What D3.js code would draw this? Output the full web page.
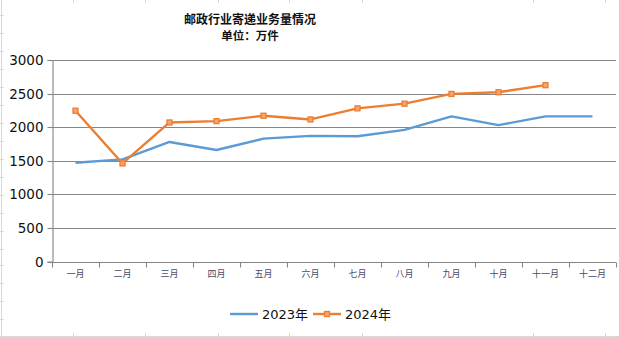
<!DOCTYPE html>
<html>
<head>
<meta charset="utf-8">
<script src="https://cdn.jsdelivr.net/npm/d3@7/dist/d3.min.js"></script>
<style>
  html, body { margin: 0; padding: 0; background: #fff; }
  svg { display: block; }
</style>
</head>
<body>
<svg id="chart" width="619" height="337"></svg>
<script>
// Monthly postal delivery volume (unit: 10k pieces)
const months = ["一月","二月","三月","四月","五月","六月","七月","八月","九月","十月","十一月","十二月"];
const series2023 = [1470, 1520, 1780, 1660, 1830, 1870, 1865, 1960, 2160, 2030, 2160, 2160];
const series2024 = [2245, 1460, 2070, 2090, 2170, 2115, 2280, 2350, 2495, 2520, 2625, null];
const yTicks = [0, 500, 1000, 1500, 2000, 2500, 3000];
const seriesNames = ["2023年", "2024年"];
const colors = ["#5B9BD5", "#ED7D31"];

const svg = d3.select("#chart");
const W = 619, H = 337;
const plot = { left: 52, right: 616, top: 60, bottom: 261.5 };
const axisColor = "#868686";

// faint sheet frame behind the chart
const frame = svg.append("g").attr("stroke", "#d9d9d9").attr("stroke-width", 1);
frame.append("line").attr("x1", 1.5).attr("x2", 1.5).attr("y1", 0).attr("y2", H);
frame.append("line").attr("x1", 0).attr("x2", W).attr("y1", 336.5).attr("y2", 336.5);
[15, 33, 51, 69, 87, 105, 123, 141, 159, 177, 195, 213, 231, 249, 265, 283, 301, 319].forEach(y => {
  frame.append("line").attr("x1", 0).attr("x2", 4).attr("y1", y + 0.5).attr("y2", y + 0.5);
});
[73, 145, 218, 289, 362, 533, 605].forEach(x => {
  frame.append("line").attr("x1", x + 0.5).attr("x2", x + 0.5).attr("y1", 333).attr("y2", 337);
  frame.append("line").attr("x1", x + 0.5).attr("x2", x + 0.5).attr("y1", 0).attr("y2", 3);
});

const x = d3.scaleBand().domain(months).range([plot.left, plot.right]);
const y = d3.scaleLinear().domain([0, 3000]).range([plot.bottom, plot.top]);

// horizontal gridlines
svg.append("g")
  .selectAll("line")
  .data(yTicks)
  .join("line")
  .attr("x1", plot.left).attr("x2", plot.right)
  .attr("y1", d => Math.round(y(d)) + 0.5).attr("y2", d => Math.round(y(d)) + 0.5)
  .attr("stroke", axisColor).attr("stroke-width", 1.1);

// y axis
const yAxis = svg.append("g")
  .attr("transform", `translate(${plot.left + 0.5},0)`)
  .call(d3.axisLeft(y).tickValues(yTicks).tickSize(5).tickPadding(4).tickFormat(d3.format("d")));
yAxis.select(".domain").attr("stroke", axisColor).attr("stroke-width", 1.1);
yAxis.selectAll(".tick line").attr("stroke", axisColor).attr("stroke-width", 1.1);
yAxis.selectAll(".tick text")
  .attr("font-family", "DejaVu Sans, sans-serif")
  .attr("font-size", "13.5px")
  .attr("fill", "#111")
  .attr("dy", "0.36em");
yAxis.selectAll(".tick").attr("transform", d => `translate(0,${Math.round(y(d)) + 0.5})`);

// x axis: ticks at band boundaries
const xg = svg.append("g").attr("transform", `translate(0,${Math.round(plot.bottom) + 0.5})`);
xg.append("line").attr("x1", plot.left).attr("x2", plot.right).attr("stroke", axisColor).attr("stroke-width", 1.1);
const bounds = months.map(m => x(m)).concat([plot.right]);
xg.selectAll("line.tk").data(bounds).join("line").attr("class", "tk")
  .attr("x1", d => Math.round(d) + 0.5).attr("x2", d => Math.round(d) + 0.5)
  .attr("y1", 0).attr("y2", 5).attr("stroke", axisColor).attr("stroke-width", 1.1);
xg.selectAll("text").data(months).join("text")
  .attr("x", d => x(d) + x.bandwidth() / 2)
  .attr("y", 14)
  .attr("text-anchor", "middle")
  .attr("font-family", "Noto Sans CJK SC, sans-serif")
  .attr("font-size", "9px")
  .attr("fill", "#4a4a66")
  .text(d => d);

// lines
const cx = d => x(d) + x.bandwidth() / 2;
const allSeries = [series2023, series2024];
allSeries.forEach((vals, i) => {
  const pts = months.map((m, j) => ({ m, v: vals[j] })).filter(p => p.v != null);
  const line = d3.line().x(p => cx(p.m)).y(p => y(p.v));
  svg.append("path")
    .datum(pts)
    .attr("d", line)
    .attr("fill", "none")
    .attr("stroke", colors[i])
    .attr("stroke-width", 2.4)
    .attr("stroke-linejoin", "round");
  if (i === 1) {
    svg.append("g").selectAll("rect").data(pts).join("rect")
      .attr("x", p => cx(p.m) - 2.5).attr("y", p => y(p.v) - 2.5)
      .attr("width", 5).attr("height", 5)
      .attr("fill", "#F4A46E").attr("stroke", colors[i]).attr("stroke-width", 1.3);
  }
});

// title
svg.append("text")
  .attr("x", 250).attr("y", 24)
  .attr("text-anchor", "middle")
  .attr("font-family", "Noto Sans CJK SC, sans-serif")
  .attr("font-weight", "bold")
  .attr("font-size", "12px")
  .attr("fill", "#111")
  .text("邮政行业寄递业务量情况");
svg.append("text")
  .attr("x", 250).attr("y", 40)
  .attr("text-anchor", "middle")
  .attr("font-family", "Noto Sans CJK SC, sans-serif")
  .attr("font-weight", "bold")
  .attr("font-size", "11.5px")
  .attr("fill", "#111")
  .text("单位：万件");

// legend
const legend = svg.append("g").attr("transform", "translate(0,314)");
const legendX = [230, 313];
seriesNames.forEach((name, i) => {
  const g = legend.append("g").attr("transform", `translate(${legendX[i]},0)`);
  g.append("line").attr("x1", 0).attr("x2", 28).attr("y1", 0).attr("y2", 0)
    .attr("stroke", colors[i]).attr("stroke-width", 2.4);
  if (i === 1) {
    g.append("rect").attr("x", 11.5).attr("y", -2.5).attr("width", 5).attr("height", 5)
      .attr("fill", "#F4A46E").attr("stroke", colors[i]).attr("stroke-width", 1.3);
  }
  g.append("text").attr("x", 32).attr("y", 0).attr("dy", "0.36em")
    .attr("font-family", "DejaVu Sans, Noto Sans CJK SC, sans-serif")
    .attr("font-size", "13px")
    .attr("fill", "#111")
    .text(name);
});
</script>
</body>
</html>
